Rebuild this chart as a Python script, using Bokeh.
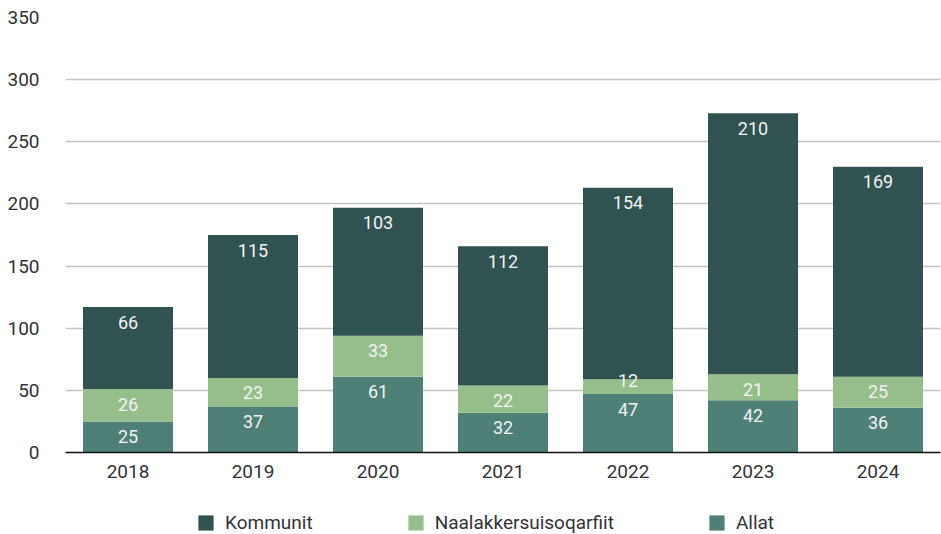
from bokeh.plotting import figure
from bokeh.layouts import column
from bokeh.models import (ColumnDataSource, FactorRange, Range1d, SingleIntervalTicker,
                          LabelSet, Legend, LegendItem)
from bokeh.core.properties import value
from bokeh.embed import file_html
from bokeh.resources import INLINE

years = ["2018", "2019", "2020", "2021", "2022", "2023", "2024"]
allat = [25, 37, 61, 32, 47, 42, 36]
naalakkersuisoqarfiit = [26, 23, 33, 22, 12, 21, 25]
kommunit = [66, 115, 103, 112, 154, 210, 169]

series_names = ["Allat", "Naalakkersuisoqarfiit", "Kommunit"]
colors = ["#4e8078", "#96be8a", "#305250"]
FONT = "Roboto"

src = ColumnDataSource(dict(year=years, allat=allat, naal=naalakkersuisoqarfiit, komm=kommunit))

p = figure(x_range=FactorRange(*years), y_range=Range1d(0, 350),
           width=941, height=490, output_backend="svg", toolbar_location=None,
           min_border_left=65, min_border_right=1, min_border_top=17, min_border_bottom=38)

rs = p.vbar_stack(["allat", "naal", "komm"], x="year", width=0.72, color=colors,
                  line_color=None, source=src)

# labels near top of each segment (small segments: label near the segment top)
px_per_unit = 435 / 350
lx, ly, lt, lo = [], [], [], []
for i, y in enumerate(years):
    cum = 0
    for vals in (allat, naalakkersuisoqarfiit, kommunit):
        cum += vals[i]
        lx.append(y)
        ly.append(cum)
        lt.append(str(vals[i]))
        lo.append(-15 if vals[i] * px_per_unit >= 25 else -1)
lsrc = ColumnDataSource(dict(x=lx, y=ly, t=lt, off=lo))
labels = LabelSet(x="x", y="y", text="t", source=lsrc, text_align="center",
                  text_baseline="middle", y_offset="off", text_color="#f2f2f2",
                  text_font=value(FONT), text_font_size=value("18px"))
p.add_layout(labels)

p.outline_line_color = None
p.xgrid.grid_line_color = None
p.ygrid.grid_line_color = "#c4c4c4"
p.ygrid.grid_line_width = 1.5
p.yaxis.ticker = SingleIntervalTicker(interval=50, num_minor_ticks=0)
p.ygrid.ticker = p.yaxis.ticker
p.yaxis.axis_line_color = None
p.yaxis.major_tick_line_color = None
p.yaxis.minor_tick_line_color = None
p.yaxis.major_label_standoff = 20
p.xaxis.axis_line_color = "#111111"
p.xaxis.axis_line_width = 1.5
p.xaxis.major_tick_line_color = None
p.xaxis.minor_tick_line_color = None
p.xaxis.major_label_standoff = 6
for ax in (p.xaxis, p.yaxis):
    ax.major_label_text_font = FONT
    ax.major_label_text_font_size = "19px"
    ax.major_label_text_color = "#333333"

# legend in its own strip below the chart; proxy glyphs lie outside the visible range
lg = figure(width=941, height=44, output_backend="svg", toolbar_location=None,
            x_range=Range1d(0, 1), y_range=Range1d(0, 1),
            x_axis_location=None, y_axis_location=None,
            min_border_left=0, min_border_right=0, min_border_top=0, min_border_bottom=0)
lg.grid.visible = False
lg.outline_line_color = None
dummies = [lg.vbar(x=[-5], top=[-5], bottom=[-6], width=0.5, color=c, line_color=None)
           for c in colors]
legend = Legend(items=[LegendItem(label=series_names[2], renderers=[dummies[2]]),
                       LegendItem(label=series_names[1], renderers=[dummies[1]]),
                       LegendItem(label=series_names[0], renderers=[dummies[0]])],
                orientation="horizontal", location=(131, 0), spacing=93,
                glyph_width=19, glyph_height=19, label_text_font=FONT,
                label_text_font_size="19px", label_text_color="#333333",
                border_line_color=None, background_fill_alpha=0, padding=0,
                margin=0, label_standoff=10)
lg.add_layout(legend, "center")

layout = column(p, lg, spacing=0)
open("out.html", "w").write(file_html(layout, INLINE))
